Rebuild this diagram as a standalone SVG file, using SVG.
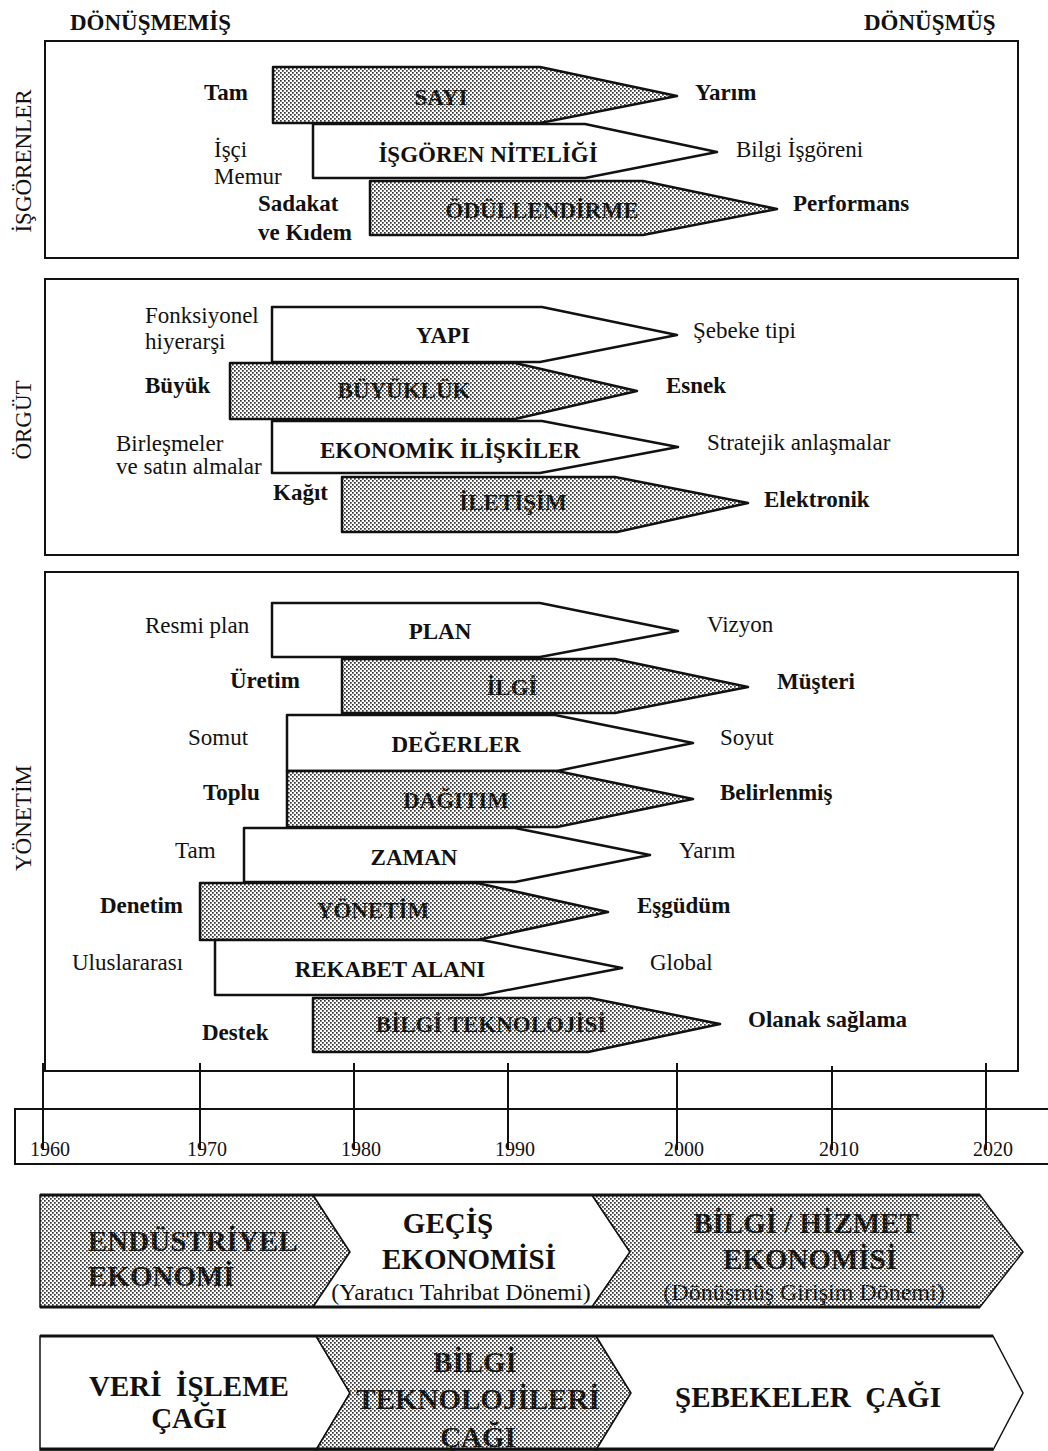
<svg xmlns="http://www.w3.org/2000/svg" width="1048" height="1451" viewBox="0 0 1048 1451">
  <style>
    text { font-family: "Liberation Serif", "Times New Roman", serif; fill: #111; }
    .b { font-weight: bold; }
    .lbl { font-size: 23px; }
    .head { font-size: 23px; font-weight: bold; }
    .side { font-size: 23px; }
    .tag { font-size: 23px; font-weight: bold; text-anchor: middle; }
    .ink { fill: url(#ink); }
    .yr { font-size: 20px; }
    .band { font-size: 29px; font-weight: bold; }
    .sub { font-size: 24px; }
    .mid { text-anchor: middle; }
    .frame { fill: none; stroke: #111; stroke-width: 2; }
    .arr { stroke: #111; stroke-width: 2.5; stroke-linejoin: round; }
    .shade { fill: url(#stip); }
    .plain { fill: #fff; }
    .tick { stroke: #111; stroke-width: 2; }
    .seg { stroke: #111; stroke-width: 1.5; stroke-linejoin: miter; }
    .edge { stroke: #111; stroke-width: 3; fill: none; }
  </style>
  <defs>
    <!-- fine stipple used for the grey bars -->
    <pattern id="stip" width="4" height="4" patternUnits="userSpaceOnUse">
      <rect width="4" height="4" fill="#fff"/>
      <rect width="1.7" height="1.7" fill="#333"/>
      <rect x="2" y="2" width="1.7" height="1.7" fill="#333"/>
    </pattern>
    <!-- dark lettering with the stipple showing through -->
    <pattern id="ink" width="4" height="4" patternUnits="userSpaceOnUse">
      <rect width="4" height="4" fill="#151515"/>
      <rect x="1" y="1" width="1.1" height="1.1" fill="#888"/>
    </pattern>
  </defs>

  <rect width="1048" height="1451" fill="#fff"/>

  <!-- column headings -->
  <text class="head" x="70" y="30">DÖNÜŞMEMİŞ</text>
  <text class="head" x="864" y="30">DÖNÜŞMÜŞ</text>

  <!-- section frames and side titles -->
  <g id="panel-isgorenler">
    <rect class="frame" x="45" y="41" width="973" height="217"/>
    <text class="side mid" transform="translate(31,161) rotate(-90)">İŞGÖRENLER</text>
  </g>
  <g id="panel-orgut">
    <rect class="frame" x="45" y="279" width="973" height="276"/>
    <text class="side mid" transform="translate(31,420) rotate(-90)">ÖRGÜT</text>
  </g>
  <g id="panel-yonetim">
    <rect class="frame" x="45" y="572" width="973" height="499"/>
    <text class="side mid" transform="translate(31,818) rotate(-90)">YÖNETİM</text>
  </g>

  <!-- İŞGÖRENLER -->
  <g id="sayi">
    <polygon class="arr shade" points="273,67 540,67 677,96 540,123 273,123"/>
    <text class="tag ink" x="441" y="105">SAYI</text>
    <text class="lbl b" x="204" y="100">Tam</text>
    <text class="lbl b" x="695" y="100">Yarım</text>
  </g>
  <g id="isgoren-niteligi">
    <polygon class="arr plain" points="313,124 585,124 717,152 585,178 313,178"/>
    <text class="tag" x="488" y="162">İŞGÖREN NİTELİĞİ</text>
    <text class="lbl" x="214" y="157">İşçi</text>
    <text class="lbl" x="214" y="184">Memur</text>
    <text class="lbl" x="736" y="157">Bilgi İşgöreni</text>
  </g>
  <g id="odullendirme">
    <polygon class="arr shade" points="370,181 643,181 777,209 643,235 370,235"/>
    <text class="tag ink" x="542" y="218">ÖDÜLLENDİRME</text>
    <text class="lbl b" x="258" y="211">Sadakat</text>
    <text class="lbl b" x="258" y="240">ve Kıdem</text>
    <text class="lbl b" x="793" y="211">Performans</text>
  </g>

  <!-- ÖRGÜT -->
  <g id="yapi">
    <polygon class="arr plain" points="272,307 542,307 677,335 540,362 272,362"/>
    <text class="tag" x="443" y="343">YAPI</text>
    <text class="lbl" x="145" y="323">Fonksiyonel</text>
    <text class="lbl" x="145" y="349">hiyerarşi</text>
    <text class="lbl" x="693" y="338">Şebeke tipi</text>
  </g>
  <g id="buyukluk">
    <polygon class="arr shade" points="230,363 515,363 637,391 515,419 230,419"/>
    <text class="tag ink" x="404" y="398">BÜYÜKLÜK</text>
    <text class="lbl b" x="145" y="393">Büyük</text>
    <text class="lbl b" x="666" y="393">Esnek</text>
  </g>
  <g id="ekonomik-iliskiler">
    <polygon class="arr plain" points="272,421 542,421 678,447 540,473 272,473"/>
    <text class="tag" x="450" y="458">EKONOMİK İLİŞKİLER</text>
    <text class="lbl" x="116" y="451">Birleşmeler</text>
    <text class="lbl" x="116" y="474">ve satın almalar</text>
    <text class="lbl" x="707" y="450">Stratejik anlaşmalar</text>
  </g>
  <g id="iletisim">
    <polygon class="arr shade" points="342,477 615,477 748,503 617,532 342,532"/>
    <text class="tag ink" x="513" y="510">İLETİŞİM</text>
    <text class="lbl b" x="273" y="500">Kağıt</text>
    <text class="lbl b" x="764" y="507">Elektronik</text>
  </g>

  <!-- YÖNETİM -->
  <g id="plan">
    <polygon class="arr plain" points="272,603 540,603 678,631 540,657 272,657"/>
    <text class="tag" x="440" y="639">PLAN</text>
    <text class="lbl" x="145" y="633">Resmi plan</text>
    <text class="lbl" x="707" y="632">Vizyon</text>
  </g>
  <g id="ilgi">
    <polygon class="arr shade" points="342,659 615,659 748,687 615,713 342,713"/>
    <text class="tag ink" x="512" y="695">İLGİ</text>
    <text class="lbl b" x="230" y="688">Üretim</text>
    <text class="lbl b" x="777" y="689">Müşteri</text>
  </g>
  <g id="degerler">
    <polygon class="arr plain" points="287,715 555,715 693,743 557,771 287,771"/>
    <text class="tag" x="456" y="752">DEĞERLER</text>
    <text class="lbl" x="188" y="745">Somut</text>
    <text class="lbl" x="720" y="745">Soyut</text>
  </g>
  <g id="dagitim">
    <polygon class="arr shade" points="287,771 557,771 693,799 557,827 287,827"/>
    <text class="tag ink" x="456" y="808">DAĞITIM</text>
    <text class="lbl b" x="203" y="800">Toplu</text>
    <text class="lbl b" x="720" y="800">Belirlenmiş</text>
  </g>
  <g id="zaman">
    <polygon class="arr plain" points="244,828 515,828 650,855 515,882 244,882"/>
    <text class="tag" x="414" y="865">ZAMAN</text>
    <text class="lbl" x="175" y="858">Tam</text>
    <text class="lbl" x="679" y="858">Yarım</text>
  </g>
  <g id="yonetim">
    <polygon class="arr shade" points="200,883 477,883 608,912 477,940 200,940"/>
    <text class="tag ink" x="373" y="918">YÖNETİM</text>
    <text class="lbl b" x="100" y="913">Denetim</text>
    <text class="lbl b" x="637" y="913">Eşgüdüm</text>
  </g>
  <g id="rekabet-alani">
    <polygon class="arr plain" points="215,940 482,940 622,968 482,995 215,995"/>
    <text class="tag" x="390" y="977">REKABET ALANI</text>
    <text class="lbl" x="72" y="970">Uluslararası</text>
    <text class="lbl" x="650" y="970">Global</text>
  </g>
  <g id="bilgi-teknolojisi">
    <polygon class="arr shade" points="313,998 590,998 720,1024 588,1052 313,1052"/>
    <text class="tag ink" x="491" y="1032">BİLGİ TEKNOLOJİSİ</text>
    <text class="lbl b" x="202" y="1040">Destek</text>
    <text class="lbl b" x="748" y="1027">Olanak sağlama</text>
  </g>

  <!-- time axis -->
  <g id="timeline">
    <path class="frame" d="M1048,1109 H15 V1164 H1048"/>
    <text class="yr" x="30" y="1156">1960</text>
    <text class="yr" x="187" y="1156">1970</text>
    <text class="yr" x="341" y="1156">1980</text>
    <text class="yr" x="495" y="1156">1990</text>
    <text class="yr" x="664" y="1156">2000</text>
    <text class="yr" x="819" y="1156">2010</text>
    <text class="yr" x="973" y="1156">2020</text>
  </g>
  <g id="ticks">
    <line class="tick" x1="43" y1="1063" x2="43" y2="1150"/>
    <line class="tick" x1="200" y1="1063" x2="200" y2="1150"/>
    <line class="tick" x1="354" y1="1063" x2="354" y2="1150"/>
    <line class="tick" x1="508" y1="1063" x2="508" y2="1150"/>
    <line class="tick" x1="677" y1="1063" x2="677" y2="1150"/>
    <line class="tick" x1="832" y1="1066" x2="832" y2="1150"/>
    <line class="tick" x1="986" y1="1063" x2="986" y2="1150"/>
  </g>

  <!-- economy band -->
  <g id="endustriyel-ekonomi">
    <polygon class="seg shade" points="40,1195 313,1195 350,1252 313,1307 40,1307"/>
    <text class="band ink" x="88" y="1251">ENDÜSTRİYEL</text>
    <text class="band ink" x="88" y="1286">EKONOMİ</text>
  </g>
  <g id="gecis-ekonomisi">
    <polygon class="seg plain" points="313,1195 592,1195 630,1252 592,1307 313,1307 350,1252"/>
    <text class="band mid" x="448" y="1233">GEÇİŞ</text>
    <text class="band mid" x="469" y="1269">EKONOMİSİ</text>
    <text class="sub mid" x="461" y="1300">(Yaratıcı Tahribat Dönemi)</text>
  </g>
  <g id="bilgi-hizmet-ekonomisi">
    <polygon class="seg shade" points="592,1195 980,1195 1023,1252 980,1307 592,1307 630,1252"/>
    <text class="band mid ink" x="806" y="1233">BİLGİ / HİZMET</text>
    <text class="band mid ink" x="810" y="1269">EKONOMİSİ</text>
    <text class="sub mid ink" x="804" y="1300">(Dönüşmüş Girişim Dönemi)</text>
  </g>
  <path class="edge" d="M40,1195 H980 M40,1307 H980"/>

  <!-- technology band -->
  <g id="veri-isleme-cagi">
    <polygon class="seg plain" points="40,1336 316,1336 350,1393 316,1450 40,1450"/>
    <text class="band mid" x="189" y="1396" xml:space="preserve">VERİ  İŞLEME</text>
    <text class="band mid" x="189" y="1428">ÇAĞI</text>
  </g>
  <g id="bilgi-teknolojileri-cagi">
    <polygon class="seg shade" points="316,1336 596,1336 631,1393 596,1450 316,1450 350,1393"/>
    <text class="band mid ink" x="475" y="1372">BİLGİ</text>
    <text class="band mid ink" x="478" y="1409">TEKNOLOJİLERİ</text>
    <text class="band mid ink" x="478" y="1447">ÇAĞI</text>
  </g>
  <g id="sebekeler-cagi">
    <polygon class="seg plain" points="596,1336 993,1336 1023,1393 993,1450 596,1450 631,1393"/>
    <text class="band mid" x="808" y="1407" xml:space="preserve">ŞEBEKELER  ÇAĞI</text>
  </g>
  <path class="edge" d="M40,1336 H993 M40,1449 H993"/>
</svg>
